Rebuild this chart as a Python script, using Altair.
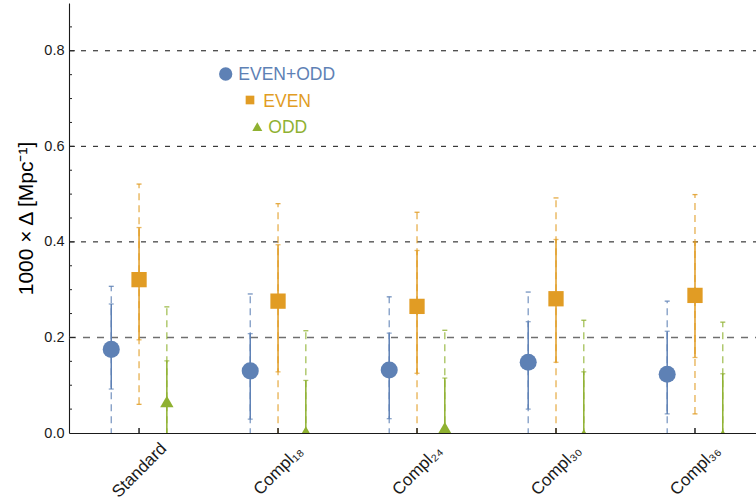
import altair as alt
import pandas as pd

# Categories along the x axis and the three fitted series
categories = ["Standard", "Compl₁₈", "Compl₂₄", "Compl₃₀", "Compl₃₆"]
series_names = ["EVEN+ODD", "EVEN", "ODD"]
series_colors = ["#5E81B5", "#E19C24", "#8FB131"]
series_shapes = ["circle", "square", "triangle-up"]

# Best-fit values of 1000 x Delta [1/Mpc]
even_odd_center = [0.175, 0.130, 0.132, 0.148, 0.123]
even_center = [0.321, 0.276, 0.265, 0.281, 0.288]
odd_center = [0.066, 0.002, 0.011, -0.004, -0.005]

# 68% intervals (solid bars)
even_odd_lo1 = [0.092, 0.029, 0.030, 0.050, 0.040]
even_odd_hi1 = [0.270, 0.208, 0.209, 0.233, 0.213]
even_lo1 = [0.195, 0.128, 0.125, 0.148, 0.158]
even_hi1 = [0.430, 0.394, 0.382, 0.405, 0.400]
odd_lo1 = [-0.03, -0.03, -0.03, -0.03, -0.03]
odd_hi1 = [0.151, 0.110, 0.115, 0.128, 0.124]

# 95% intervals (dashed bars)
even_odd_lo2 = [-0.03, -0.03, -0.03, -0.03, -0.03]
even_odd_hi2 = [0.307, 0.291, 0.285, 0.295, 0.276]
even_lo2 = [0.060, -0.03, -0.03, -0.03, 0.040]
even_hi2 = [0.521, 0.480, 0.462, 0.492, 0.499]
odd_lo2 = [-0.03, -0.03, -0.03, -0.03, -0.03]
odd_hi2 = [0.264, 0.214, 0.215, 0.236, 0.232]

series_offsets = [-0.2, 0.0, 0.2]
series_sizes = [290, 178, 250]

table = {
    "EVEN+ODD": (even_odd_center, even_odd_lo1, even_odd_hi1, even_odd_lo2, even_odd_hi2),
    "EVEN": (even_center, even_lo1, even_hi1, even_lo2, even_hi2),
    "ODD": (odd_center, odd_lo1, odd_hi1, odd_lo2, odd_hi2),
}

rows = []
for s, name in enumerate(series_names):
    c, lo1, hi1, lo2, hi2 = table[name]
    for i, cat in enumerate(categories):
        rows.append(dict(series=name, category=cat, pos=i + 1 + series_offsets[s],
                         center=c[i], lo1=lo1[i], hi1=hi1[i], lo2=lo2[i], hi2=hi2[i]))
df = pd.DataFrame(rows)

W, H = 687, 430
FONT = "Liberation Sans"

x_scale = alt.Scale(domain=[0.496, 5.439], nice=False, zero=False)
y_scale = alt.Scale(domain=[0.0, 0.9], nice=False, zero=False)
color = alt.Color("series:N", scale=alt.Scale(domain=series_names, range=series_colors), legend=None)

label_expr = "[" + ",".join(f"'{c}'" for c in categories) + "][round(datum.value) - 1]"

x_enc = alt.X("pos:Q", scale=x_scale, axis=alt.Axis(
    title=None, values=[1, 2, 3, 4, 5], labelExpr=label_expr, ticks=False, grid=False,
    labelAngle=315, labelAlign="center", labelBaseline="middle", labelPadding=37,
    labelFontSize=17, labelOverlap=False, labelFlush=False, labelBound=False))
y_axis = alt.Axis(
    title="1000 × Δ [Mpc⁻¹]", values=[0.0, 0.2, 0.4, 0.6, 0.8], format=".1f",
    ticks=False, grid=False, labelFontSize=14.5, labelPadding=5,
    titleFontSize=21, titleFontWeight="normal", titlePadding=7)

base = alt.Chart(df)

# Horizontal dashed reference lines
grid_main = alt.Chart(pd.DataFrame({"v": [0.4, 0.6, 0.8]})).mark_rule(
    color="#111111", strokeWidth=1, strokeDash=[5, 7]
).encode(y=alt.Y("v:Q", scale=y_scale, axis=y_axis), x=alt.value(0), x2=alt.value(W))
grid_low = alt.Chart(pd.DataFrame({"v": [0.2]})).mark_rule(
    color="#6f6f6f", strokeWidth=1.6, strokeDash=[7, 7]
).encode(y=alt.Y("v:Q", scale=y_scale), x=alt.value(0), x2=alt.value(W))

# Inward frame ticks on the y axis
minor_vals = [round(0.05 * k, 2) for k in range(1, 18) if k % 4]
y_minor = alt.Chart(pd.DataFrame({"v": minor_vals})).mark_rule(color="#222222", strokeWidth=1).encode(
    y=alt.Y("v:Q", scale=y_scale), x=alt.value(0), x2=alt.value(3))
y_major = alt.Chart(pd.DataFrame({"v": [0.2, 0.4, 0.6, 0.8]})).mark_rule(color="#222222", strokeWidth=1).encode(
    y=alt.Y("v:Q", scale=y_scale), x=alt.value(0), x2=alt.value(6))
x_ticks = alt.Chart(pd.DataFrame({"p": [1, 2, 3, 4, 5]})).mark_rule(color="#222222", strokeWidth=1.5).encode(
    x=alt.X("p:Q", scale=x_scale), y=alt.value(H - 5), y2=alt.value(H))

# 95% bars: dashed with caps
outer = base.mark_rule(strokeWidth=1.3, strokeDash=[7, 5], strokeOpacity=0.8, clip=True).encode(
    x=x_enc, y=alt.Y("lo2:Q", scale=y_scale), y2="hi2:Q", color=color)
outer_cap_hi = base.mark_tick(orient="horizontal", size=5, thickness=1.3, opacity=0.85, clip=True).encode(
    x=alt.X("pos:Q", scale=x_scale), y=alt.Y("hi2:Q", scale=y_scale), color=color)
outer_cap_lo = base.mark_tick(orient="horizontal", size=5, thickness=1.3, opacity=0.85, clip=True).encode(
    x=alt.X("pos:Q", scale=x_scale), y=alt.Y("lo2:Q", scale=y_scale), color=color)

# 68% bars: solid with small end ticks
inner = base.mark_rule(strokeWidth=1.5, clip=True).encode(
    x=alt.X("pos:Q", scale=x_scale), y=alt.Y("lo1:Q", scale=y_scale), y2="hi1:Q", color=color)
inner_cap_hi = base.mark_tick(orient="horizontal", size=5, thickness=1.3, clip=True).encode(
    x=alt.X("pos:Q", scale=x_scale), y=alt.Y("hi1:Q", scale=y_scale), color=color)
inner_cap_lo = base.mark_tick(orient="horizontal", size=5, thickness=1.3, clip=True).encode(
    x=alt.X("pos:Q", scale=x_scale), y=alt.Y("lo1:Q", scale=y_scale), color=color)

points = base.mark_point(filled=True, opacity=1, strokeWidth=0, clip=True).encode(
    x=alt.X("pos:Q", scale=x_scale), y=alt.Y("center:Q", scale=y_scale), color=color,
    shape=alt.Shape("series:N", scale=alt.Scale(domain=series_names, range=series_shapes), legend=None),
    size=alt.Size("series:N", scale=alt.Scale(domain=series_names, range=series_sizes), legend=None))

# Centered legend block drawn inside the plot
legend_df = pd.DataFrame({
    "series": series_names,
    "color": series_colors,
    "shape": series_shapes,
    "sx": [156.7, 181.0, 188.3],
    "sy": [71.0, 97.0, 123.7],
    "ssize": [177, 75, 100],
    "tx": [169.3, 194.3, 199.3],
    "ty": [71.7, 98.5, 124.5],
})
legend_sym = alt.Chart(legend_df).mark_point(filled=True, opacity=1, strokeWidth=0).encode(
    x=alt.X("sx:Q", scale=None), y=alt.Y("sy:Q", scale=None),
    color=alt.Color("color:N", scale=None), shape=alt.Shape("shape:N", scale=None),
    size=alt.Size("ssize:Q", scale=None))
legend_txt = alt.Chart(legend_df).mark_text(
    align="left", baseline="middle", font=FONT, fontSize=17.5
).encode(x=alt.X("tx:Q", scale=None), y=alt.Y("ty:Q", scale=None),
         color=alt.Color("color:N", scale=None), text="series:N")

chart = alt.layer(
    grid_main, grid_low, y_minor, y_major,
    outer, outer_cap_hi, outer_cap_lo, inner, inner_cap_hi, inner_cap_lo,
    x_ticks, points, legend_sym, legend_txt
).properties(
    width=W, height=H,
    padding={"left": 69, "top": 3, "right": 0, "bottom": 71},
    autosize=alt.AutoSizeParams(type="none"),
).configure_view(stroke=None).configure_axis(
    labelFont=FONT, titleFont=FONT, labelColor="#1a1a1a", titleColor="#000000",
    domainColor="#1a1a1a", domainWidth=1.1
)

chart.save("out.html", embed_options={"renderer": "svg", "actions": False})
